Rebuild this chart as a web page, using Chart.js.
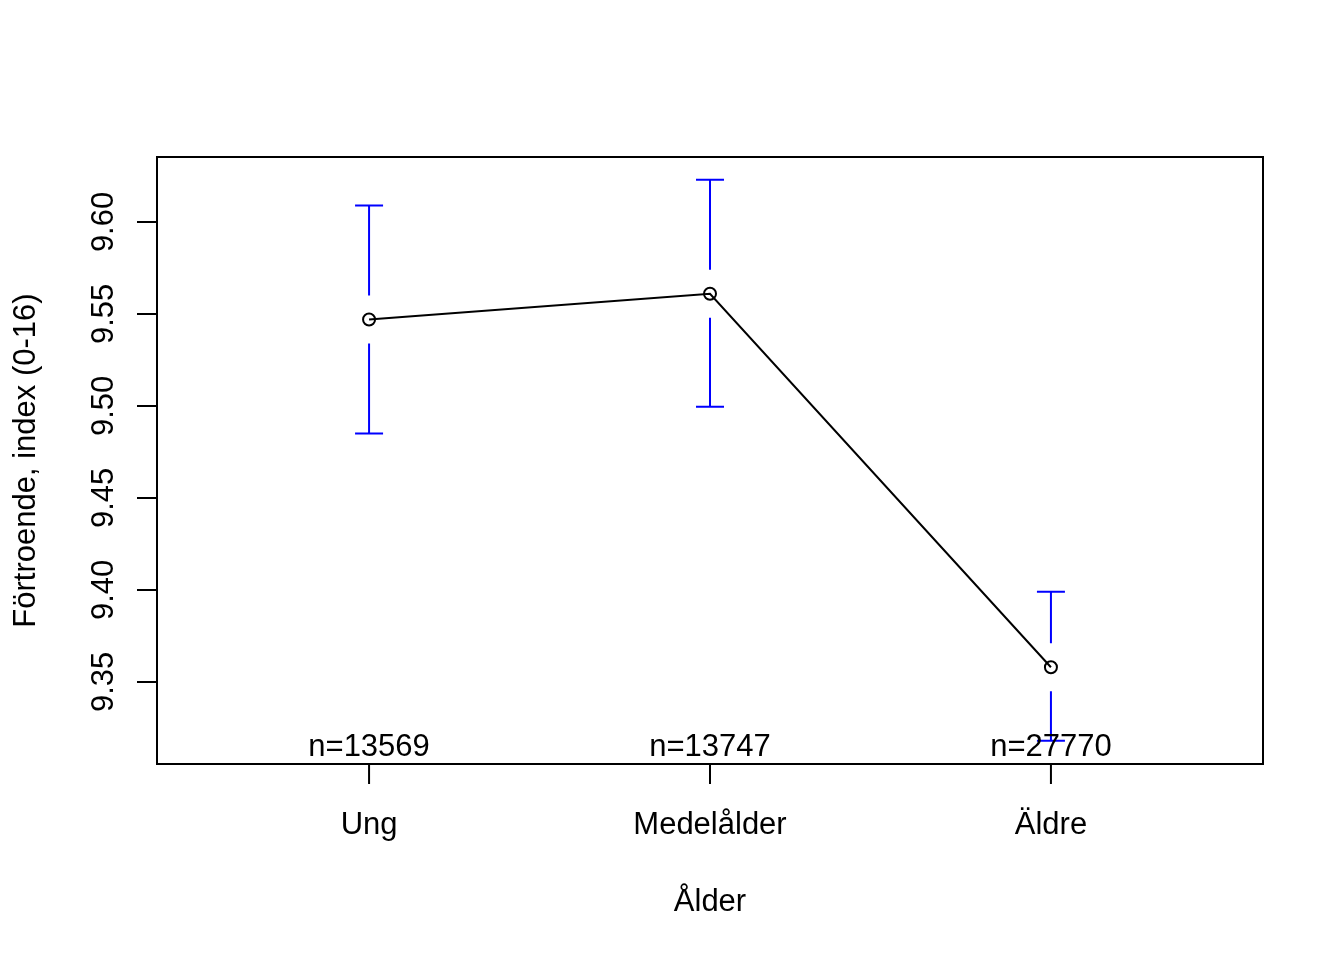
<!DOCTYPE html>
<html>
<head>
<meta charset="utf-8">
<script src="https://cdn.jsdelivr.net/npm/chart.js@4"></script>
<style>
  html, body { margin: 0; padding: 0; background: #fff; }
  #wrap { width: 1344px; height: 960px; }
</style>
</head>
<body>
<div id="wrap"><canvas id="chart" width="1344" height="960"></canvas></div>
<script>
// Data
const categories = ['Ung', 'Medelålder', 'Äldre'];
const means = [9.547, 9.561, 9.358];
const upperCI = [9.609, 9.623, 9.399];
const lowerCI = [9.485, 9.4995, 9.318];
const counts = [13569, 13747, 27770];
const yTicks = [9.35, 9.40, 9.45, 9.50, 9.55, 9.60];

const FONT = '31px "Liberation Sans", Arial, sans-serif';

// draws the R-style frame, axes, labels and gapped error bars
const rStyle = {
  id: 'rStyle',
  afterDatasetsDraw(chart) {
    const { ctx, chartArea: a, scales: { x, y } } = chart;
    ctx.save();

    // error bars (blue, with a gap round the point)
    ctx.strokeStyle = '#0000ff';
    ctx.lineWidth = 2;
    const gap = 24, cap = 14;
    categories.forEach((c, i) => {
      const px = x.getPixelForValue(i + 1);
      const pm = y.getPixelForValue(means[i]);
      const pu = y.getPixelForValue(upperCI[i]);
      const pl = y.getPixelForValue(lowerCI[i]);
      ctx.beginPath();
      ctx.moveTo(px, pm - gap); ctx.lineTo(px, pu);
      ctx.moveTo(px - cap, pu); ctx.lineTo(px + cap, pu);
      ctx.moveTo(px, pm + gap); ctx.lineTo(px, pl);
      ctx.moveTo(px - cap, pl); ctx.lineTo(px + cap, pl);
      ctx.stroke();
    });

    // box
    ctx.strokeStyle = '#000';
    ctx.lineWidth = 2;
    ctx.strokeRect(a.left, a.top, a.right - a.left, a.bottom - a.top);

    ctx.fillStyle = '#000';
    ctx.font = FONT;

    // x ticks + labels
    ctx.beginPath();
    categories.forEach((c, i) => {
      const px = x.getPixelForValue(i + 1);
      ctx.moveTo(px, a.bottom); ctx.lineTo(px, a.bottom + 20);
    });
    ctx.stroke();
    ctx.textAlign = 'center';
    ctx.textBaseline = 'alphabetic';
    categories.forEach((c, i) => {
      ctx.fillText(c, x.getPixelForValue(i + 1), a.bottom + 70);
    });

    // n= labels inside the plot
    counts.forEach((n, i) => {
      ctx.fillText('n=' + n, x.getPixelForValue(i + 1), a.bottom - 8);
    });

    // x title
    ctx.fillText('Ålder', (a.left + a.right) / 2, a.bottom + 147);

    // y ticks + rotated labels
    ctx.beginPath();
    yTicks.forEach(v => {
      const py = y.getPixelForValue(v);
      ctx.moveTo(a.left, py); ctx.lineTo(a.left - 20, py);
    });
    ctx.stroke();
    yTicks.forEach(v => {
      const py = y.getPixelForValue(v);
      ctx.save();
      ctx.translate(a.left - 44, py);
      ctx.rotate(-Math.PI / 2);
      ctx.fillText(v.toFixed(2), 0, 0);
      ctx.restore();
    });

    // y title
    ctx.save();
    ctx.translate(35, (a.top + a.bottom) / 2);
    ctx.rotate(-Math.PI / 2);
    ctx.fillText('Förtroende, index (0-16)', 0, 0);
    ctx.restore();

    ctx.restore();
  }
};

const whiteBg = {
  id: 'whiteBg',
  beforeDraw(chart) {
    const { ctx } = chart;
    ctx.save();
    ctx.fillStyle = '#fff';
    ctx.fillRect(0, 0, chart.width, chart.height);
    ctx.restore();
  }
};

new Chart(document.getElementById('chart'), {
  type: 'line',
  data: {
    datasets: [{
      data: means.map((m, i) => ({ x: i + 1, y: m })),
      borderColor: '#000',
      borderWidth: 2,
      backgroundColor: 'rgba(0,0,0,0)',
      pointStyle: 'circle',
      pointRadius: 6,
      pointBorderWidth: 2,
      pointBorderColor: '#000',
      pointBackgroundColor: 'rgba(0,0,0,0)',
      tension: 0,
      fill: false,
    }],
  },
  options: {
    responsive: false,
    animation: false,
    devicePixelRatio: 1,
    layout: { padding: { left: 157, right: 81, top: 157, bottom: 196 } },
    plugins: { legend: { display: false }, tooltip: { enabled: false } },
    scales: {
      x: { type: 'linear', display: false, min: 0.378, max: 3.622 },
      y: { type: 'linear', display: false, min: 9.3054, max: 9.6353 },
    },
  },
  plugins: [whiteBg, rStyle],
});
</script>
</body>
</html>
